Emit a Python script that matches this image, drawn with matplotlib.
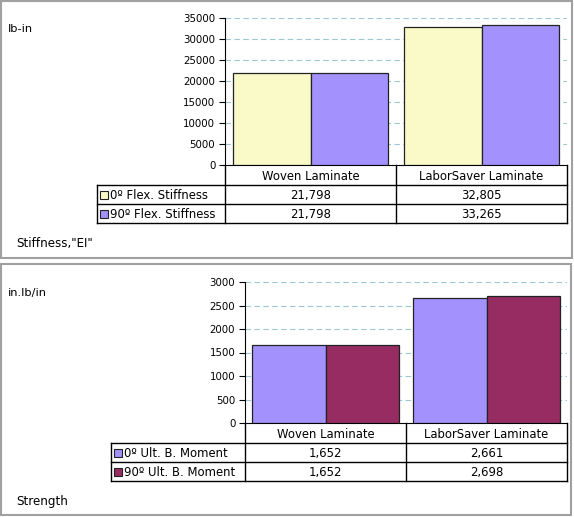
import matplotlib

matplotlib.use("Agg")
import matplotlib.pyplot as plt
from matplotlib.patches import Rectangle

categories = ["Woven Laminate", "LaborSaver Laminate"]

stiff_series = ["0º Flex. Stiffness", "90º Flex. Stiffness"]
stiff_0 = [21798, 32805]
stiff_90 = [21798, 33265]
stiff_ticks = [0, 5000, 10000, 15000, 20000, 25000, 30000, 35000]

strength_series = ["0º Ult. B. Moment", "90º Ult. B. Moment"]
strength_0 = [1652, 2661]
strength_90 = [1652, 2698]
strength_ticks = [0, 500, 1000, 1500, 2000, 2500, 3000]

W, H = 574, 517
GRID = "#9cc8d4"
EDGE = "#222222"
FS = 8.4

fig = plt.figure(figsize=(W / 100, H / 100), dpi=100)
fig.patch.set_facecolor("white")

# overlay in pixel coords for frames, table and labels
ov = fig.add_axes([0, 0, 1, 1], zorder=0)
ov.set_xlim(0, W)
ov.set_ylim(H, 0)
ov.axis("off")


def add_ax(left, top, right, bottom):
    return fig.add_axes([left / W, 1 - bottom / H, (right - left) / W, (bottom - top) / H], zorder=2)


def panel(box, unit, title, left, top, right, bottom, leg_left, series, values, colors, ticks):
    x0, y0, x1, y1 = box
    ov.add_patch(Rectangle((x0, y0), x1 - x0, y1 - y0, fill=False, ec="#a0a0a0", lw=1.5))
    ov.text(8, top + 11, unit, fontsize=8.2, va="center", ha="left")
    ov.text(16, y1 - 14, title, fontsize=8.6, va="center", ha="left")

    ax = add_ax(left, top, right, bottom)
    ax.patch.set_alpha(0)
    xs = list(range(len(categories)))
    width = 0.455
    for k, (vals, col) in enumerate(zip(values, colors)):
        pos = [x - width + k * width for x in xs]
        ax.bar(pos, vals, width=width, align="edge", color=col, edgecolor=EDGE, linewidth=0.9, zorder=3)
    ax.set_xlim(-0.5, len(categories) - 0.5)
    ax.set_ylim(ticks[0], ticks[-1])
    ax.set_yticks(ticks)
    ax.set_xticks([])
    for t in ticks[1:]:
        ax.axhline(t, color=GRID, lw=0.8, ls=(0, (5, 3)), zorder=1)
    for s in ("top", "right"):
        ax.spines[s].set_visible(False)
    ax.spines["left"].set_color("black")
    ax.spines["bottom"].set_color("black")
    ax.tick_params(axis="y", direction="out", length=4, width=0.8, labelsize=7.4, pad=3)

    # data table below the axes
    row_h = [20, 19, 19]
    rows = [bottom]
    for h in row_h:
        rows.append(rows[-1] + h)
    cat_w = (right - left) / len(categories)
    lw = 1.0
    ov.plot([left, left], [rows[0], rows[-1]], color="black", lw=lw)
    ov.plot([right, right], [rows[0], rows[-1]], color="black", lw=lw)
    for i in range(1, len(categories)):
        ov.plot([left + i * cat_w] * 2, [rows[0], rows[-1]], color="black", lw=lw)
    ov.plot([leg_left, right], [rows[1], rows[1]], color="black", lw=lw)
    ov.plot([leg_left, right], [rows[2], rows[2]], color="black", lw=lw)
    ov.plot([leg_left, right], [rows[3], rows[3]], color="black", lw=lw)
    ov.plot([leg_left, leg_left], [rows[1], rows[3]], color="black", lw=lw)
    for i, c in enumerate(categories):
        ov.text(left + (i + 0.5) * cat_w, (rows[0] + rows[1]) / 2 + 1, c, fontsize=FS, ha="center", va="center")
    for r, (name, vals, col) in enumerate(zip(series, values, colors)):
        yc = (rows[r + 1] + rows[r + 2]) / 2
        ov.add_patch(Rectangle((leg_left + 3, yc - 4), 8, 8, fc=col, ec=EDGE, lw=0.8))
        ov.text(leg_left + 13, yc + 1, name, fontsize=FS, ha="left", va="center")
        for i, v in enumerate(vals):
            ov.text(left + (i + 0.5) * cat_w, yc + 1, f"{v:,}", fontsize=FS, ha="center", va="center")
    return ax


panel((1, 1, 572, 258), "lb-in", 'Stiffness,"EI"', 225, 18, 567, 165, 97,
      stiff_series, [stiff_0, stiff_90], ["#fafac8", "#a391fd"], stiff_ticks)
panel((1, 264, 571, 515), "in.lb/in", "Strength", 245, 282, 567, 423, 111,
      strength_series, [strength_0, strength_90], ["#a391fd", "#962c62"], strength_ticks)

fig.savefig("out.png", dpi=100)
